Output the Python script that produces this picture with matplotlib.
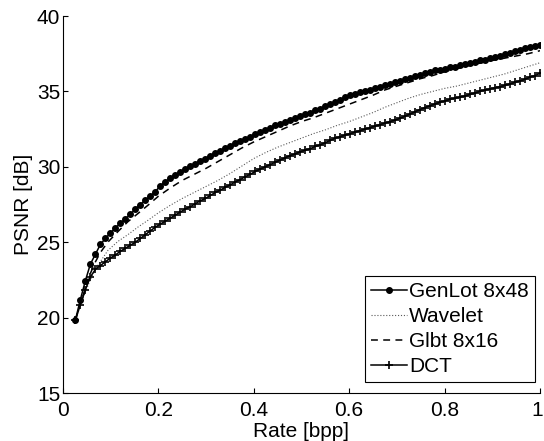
import numpy as np
import matplotlib
matplotlib.use("Agg")
import matplotlib.pyplot as plt
import matplotlib.transforms as mtransforms

plt.rcParams['font.family'] = ['Liberation Sans', 'DejaVu Sans']

# Rate grid of the marked curves (same rate sweep for GenLot and DCT)
rate = np.linspace(0.026, 1.0, 94)

genlot_psnr = [
    19.84, 21.2, 22.45, 23.55, 24.2, 24.85, 25.25, 25.6, 25.95, 26.25,
    26.55, 26.85, 27.2, 27.5, 27.8, 28.05, 28.35, 28.75, 29.0, 29.25,
    29.45, 29.65, 29.85, 30.05, 30.2, 30.4, 30.55, 30.75, 30.9, 31.05,
    31.25, 31.4, 31.55, 31.7, 31.85, 32.0, 32.15, 32.3, 32.45, 32.6,
    32.75, 32.85, 33.0, 33.1, 33.25, 33.35, 33.5, 33.6, 33.75, 33.85,
    34.0, 34.15, 34.3, 34.45, 34.6, 34.75, 34.85, 34.95, 35.0, 35.1,
    35.2, 35.3, 35.4, 35.5, 35.6, 35.7, 35.8, 35.9, 36.0, 36.1,
    36.2, 36.3, 36.4, 36.45, 36.5, 36.6, 36.65, 36.75, 36.8, 36.9,
    36.95, 37.05, 37.1, 37.2, 37.3, 37.38, 37.45, 37.55, 37.65, 37.75,
    37.85, 37.95, 38.0, 38.1]

dct_psnr = [
    19.84, 20.85, 21.85, 22.7, 23.2, 23.45, 23.7, 23.95, 24.15, 24.4,
    24.6, 24.8, 25.0, 25.25, 25.5, 25.75, 26.0, 26.2, 26.4, 26.6,
    26.8, 27.0, 27.2, 27.35, 27.55, 27.75, 27.9, 28.1, 28.3, 28.45,
    28.65, 28.8, 29.0, 29.15, 29.35, 29.5, 29.7, 29.85, 30.0, 30.15,
    30.3, 30.45, 30.6, 30.75, 30.85, 31.0, 31.1, 31.2, 31.35, 31.45,
    31.6, 31.75, 31.9, 32.0, 32.1, 32.2, 32.3, 32.4, 32.5, 32.6,
    32.7, 32.8, 32.9, 33.0, 33.1, 33.22, 33.36, 33.5, 33.65, 33.8,
    33.93, 34.05, 34.17, 34.28, 34.38, 34.47, 34.55, 34.62, 34.7, 34.8,
    34.9, 35.0, 35.1, 35.15, 35.25, 35.31, 35.4, 35.5, 35.6, 35.7,
    35.8, 35.95, 36.05, 36.2]

# Unmarked curves
line_rate = [0.026, 0.036, 0.047, 0.057, 0.068, 0.078, 0.094, 0.115, 0.136, 0.157,
             0.178, 0.2, 0.225, 0.25, 0.275, 0.3, 0.325, 0.35, 0.375, 0.4,
             0.425, 0.45, 0.475, 0.5, 0.525, 0.55, 0.575, 0.6, 0.625, 0.65,
             0.675, 0.7, 0.725, 0.75, 0.775, 0.8, 0.825, 0.85, 0.875, 0.9,
             0.925, 0.95, 0.975, 1.0]

wavelet_psnr = [19.84, 20.8, 21.7, 22.5, 23.2, 23.7, 24.45, 25.05, 25.5, 26.0,
                26.45, 26.95, 27.45, 27.9, 28.3, 28.7, 29.1, 29.55, 30.05, 30.55,
                30.95, 31.3, 31.6, 31.9, 32.2, 32.45, 32.75, 33.0, 33.3, 33.6,
                33.95, 34.25, 34.55, 34.8, 35.0, 35.2, 35.35, 35.55, 35.75, 35.95,
                36.15, 36.4, 36.65, 36.9]

glbt_psnr = [19.84, 20.9, 21.95, 22.9, 23.7, 24.3, 25.0, 25.7, 26.36, 26.9,
             27.45, 28.05, 28.6, 29.1, 29.5, 29.9, 30.35, 30.8, 31.25, 31.65,
             32.0, 32.35, 32.7, 33.0, 33.25, 33.55, 33.85, 34.15, 34.45, 34.75,
             35.1, 35.35, 35.6, 35.85, 36.05, 36.3, 36.5, 36.7, 36.88, 37.05,
             37.2, 37.35, 37.5, 37.7]

fig = plt.figure(figsize=(5.44, 4.41), dpi=100)
ax = fig.add_axes([0.1158, 0.1088, 0.8768, 0.8549])

ax.plot(rate, genlot_psnr, color="black", linewidth=1.1, marker=".", markersize=8,
        label="GenLot 8x48")
ax.plot(line_rate, wavelet_psnr, color="0.35", linewidth=0.8, linestyle=":",
        label="Wavelet")
ax.plot(line_rate, glbt_psnr, color="black", linewidth=1.1, dashes=(4.5, 3.5),
        label="Glbt 8x16")
ax.plot(rate, dct_psnr, color="black", linewidth=1.1, marker="+", markersize=6,
        markeredgewidth=1.2, label="DCT")

ax.set_xlim(0, 1)
ax.set_ylim(15, 40)
ax.set_xticks([0, 0.2, 0.4, 0.6, 0.8, 1])
ax.set_xticklabels(["0", "0.2", "0.4", "0.6", "0.8", "1"])
ax.set_yticks([15, 20, 25, 30, 35, 40])
ax.tick_params(direction="in", length=3.6, width=0.8, labelsize=15)
ax.tick_params(axis="x", pad=6)
ax.tick_params(axis="y", pad=2)
ax.spines["top"].set_visible(False)
ax.spines["right"].set_visible(False)
for s in ["left", "bottom"]:
    ax.spines[s].set_linewidth(0.8)

# nudge the "1" label so it stays inside the figure
last = ax.get_xticklabels()[-1]
last.set_transform(last.get_transform() +
                   mtransforms.ScaledTranslation(-3 / 100, 0, fig.dpi_scale_trans))

ax.set_xlabel("Rate [bpp]", fontsize=15, labelpad=1)
ax.set_ylabel("PSNR [dB]", fontsize=15, labelpad=3)

leg = ax.legend(loc="lower right", bbox_to_anchor=(0.9895, 0.029), borderaxespad=0,
                fontsize=15, numpoints=1, handlelength=1.75, handletextpad=0.08,
                labelspacing=0.28, borderpad=0.3, fancybox=False, framealpha=1)
leg.get_frame().set_edgecolor("black")
leg.get_frame().set_linewidth(0.8)

fig.savefig("out.png", dpi=100)
